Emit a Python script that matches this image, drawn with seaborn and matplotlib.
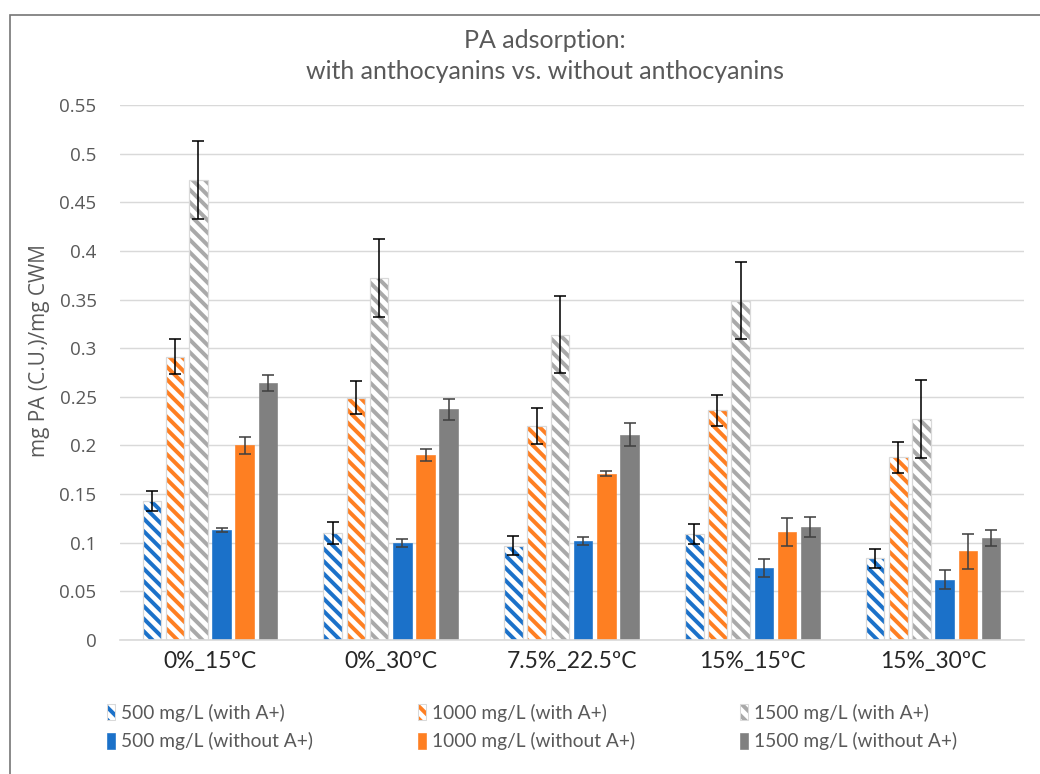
import matplotlib
matplotlib.use("Agg")
import matplotlib.pyplot as plt
import matplotlib.colors as mcolors
from matplotlib.patches import Patch, Rectangle
from matplotlib.container import BarContainer
import seaborn as sns
import pandas as pd

# ---------------- data ----------------
categories = ["0%_15ºC", "0%_30ºC", "7.5%_22.5ºC", "15%_15ºC", "15%_30ºC"]
series = ["500 mg/L (with A+)", "1000 mg/L (with A+)", "1500 mg/L (with A+)",
          "500 mg/L (without A+)", "1000 mg/L (without A+)", "1500 mg/L (without A+)"]

with_500 = [0.143, 0.110, 0.097, 0.109, 0.084]
with_1000 = [0.291, 0.249, 0.220, 0.236, 0.188]
with_1500 = [0.473, 0.372, 0.314, 0.349, 0.227]
without_500 = [0.113, 0.100, 0.102, 0.074, 0.062]
without_1000 = [0.200, 0.190, 0.171, 0.111, 0.091]
without_1500 = [0.264, 0.237, 0.211, 0.116, 0.105]

err_with_500 = [0.010, 0.011, 0.010, 0.010, 0.010]
err_with_1000 = [0.018, 0.017, 0.018, 0.016, 0.016]
err_with_1500 = [0.040, 0.040, 0.040, 0.040, 0.040]
err_without_500 = [0.002, 0.004, 0.004, 0.009, 0.010]
err_without_1000 = [0.009, 0.006, 0.0025, 0.014, 0.018]
err_without_1500 = [0.008, 0.011, 0.012, 0.0105, 0.008]

values = [with_500, with_1000, with_1500, without_500, without_1000, without_1500]
errors = [err_with_500, err_with_1000, err_with_1500,
          err_without_500, err_without_1000, err_without_1500]

y_ticks = [0, 0.05, 0.1, 0.15, 0.2, 0.25, 0.3, 0.35, 0.4, 0.45, 0.5, 0.55]

# ---------------- styles ----------------
BLUE = "#1b71c9"
ORANGE = "#fe7f22"
GRAY = "#808080"
HATCH_GRAY = "#a9a9a9"
EDGE_LIGHT = "#d9d9d9"
series_colors = [BLUE, ORANGE, HATCH_GRAY, BLUE, ORANGE, GRAY]
hatched = [True, True, True, False, False, False]
err_colors = ["#000000", "#000000", "#000000", "#404040", "#404040", "#404040"]

rows = []
for s, vals in zip(series, values):
    for c, v in zip(categories, vals):
        rows.append({"category": c, "series": s, "value": v})
df = pd.DataFrame(rows)

sns.set_theme(style="white")
plt.rcParams["font.family"] = ["Lato", "DejaVu Sans"]
plt.rcParams["hatch.linewidth"] = 1.9

DPI = 150
fig = plt.figure(figsize=(1040 / DPI, 774 / DPI), dpi=DPI)
ax = fig.add_axes([119.5 / 1040, 1 - 640 / 774, (1023.5 - 119.5) / 1040, (640 - 105) / 774])

sns.barplot(data=df, x="category", y="value", hue="series", hue_order=series,
            order=categories, palette=series_colors, width=0.77, gap=0.2,
            errorbar=None, legend=False, ax=ax, saturation=1)
cat_xlim = ax.get_xlim()

bar_containers = [c for c in ax.containers if isinstance(c, BarContainer)]
for i, cont in enumerate(bar_containers):
    for p in cont.patches:
        if hatched[i]:
            p.set_facecolor("white")
            p.set_edgecolor(EDGE_LIGHT)
            p.set_linewidth(0.6)
            p.set_hatch("\\\\\\\\")
            p._hatch_color = mcolors.to_rgba(series_colors[i])
        else:
            p.set_facecolor(series_colors[i])
            p.set_edgecolor(series_colors[i])
            p.set_linewidth(0.3)
    xs = [p.get_x() + p.get_width() / 2 for p in cont.patches]
    ys = [p.get_height() for p in cont.patches]
    ax.errorbar(xs, ys, yerr=errors[i], fmt="none", ecolor=err_colors[i],
                elinewidth=0.75, capsize=3.0, capthick=0.75, zorder=5)

ax.set_xlim(cat_xlim)
ax.set_ylim(0, 0.55)
ax.set_yticks(y_ticks)
ax.set_yticklabels([f"{v:g}" for v in y_ticks], fontfamily=["Open Sans", "DejaVu Sans"],
                   fontsize=9.0, color="#595959")
ax.yaxis.grid(True, color="#d9d9d9", linewidth=0.7)
ax.set_axisbelow(True)
ax.tick_params(axis="y", length=0, pad=11)
ax.tick_params(axis="x", length=0, pad=5.5)
for lab in ax.get_xticklabels():
    lab.set_fontsize(11.0)
    lab.set_color("#262626")
for side in ["left", "right", "top"]:
    ax.spines[side].set_visible(False)
ax.spines["bottom"].set_color("#d9d9d9")
ax.spines["bottom"].set_linewidth(0.8)
ax.set_xlabel("")
ax.set_ylabel("")

fig.text(40 / 1040, 1 - 351 / 774, "mg PA (C.U.)/mg CWM", rotation=90,
         ha="center", va="center", fontsize=10.0, color="#595959",
         fontfamily=["Open Sans", "DejaVu Sans"])

fig.text(545 / 1040, 1 - 56 / 774, "PA adsorption:\nwith anthocyanins vs. without anthocyanins",
         ha="center", va="center", fontsize=12.0, color="#595959", linespacing=1.4)

# legend
handles = []
order = [0, 3, 1, 4, 2, 5]
for i in order:
    if hatched[i]:
        h = Patch(facecolor="white", edgecolor=EDGE_LIGHT, linewidth=0.5, hatch="\\\\\\\\")
        h._hatch_color = mcolors.to_rgba(series_colors[i])
    else:
        h = Patch(facecolor=series_colors[i], edgecolor=series_colors[i], linewidth=0.3)
    handles.append(h)
leg = fig.legend(handles, [series[i] for i in order], ncol=3, frameon=False,
                 loc="center", bbox_to_anchor=(532 / 1040, 1 - 727 / 774),
                 handlelength=0.45, handleheight=0.9, handletextpad=0.3,
                 columnspacing=5.45, labelspacing=0.55, fontsize=9.2)
for t in leg.get_texts():
    t.set_color("#595959")

# chart-area frame
fig.patches.append(Rectangle((10 / 1040, -0.01), 1.05, 1 - 15 / 774 + 0.01,
                             transform=fig.transFigure, fill=False,
                             edgecolor="#767676", linewidth=0.8, clip_on=False))

fig.savefig("out.png", dpi=DPI)
